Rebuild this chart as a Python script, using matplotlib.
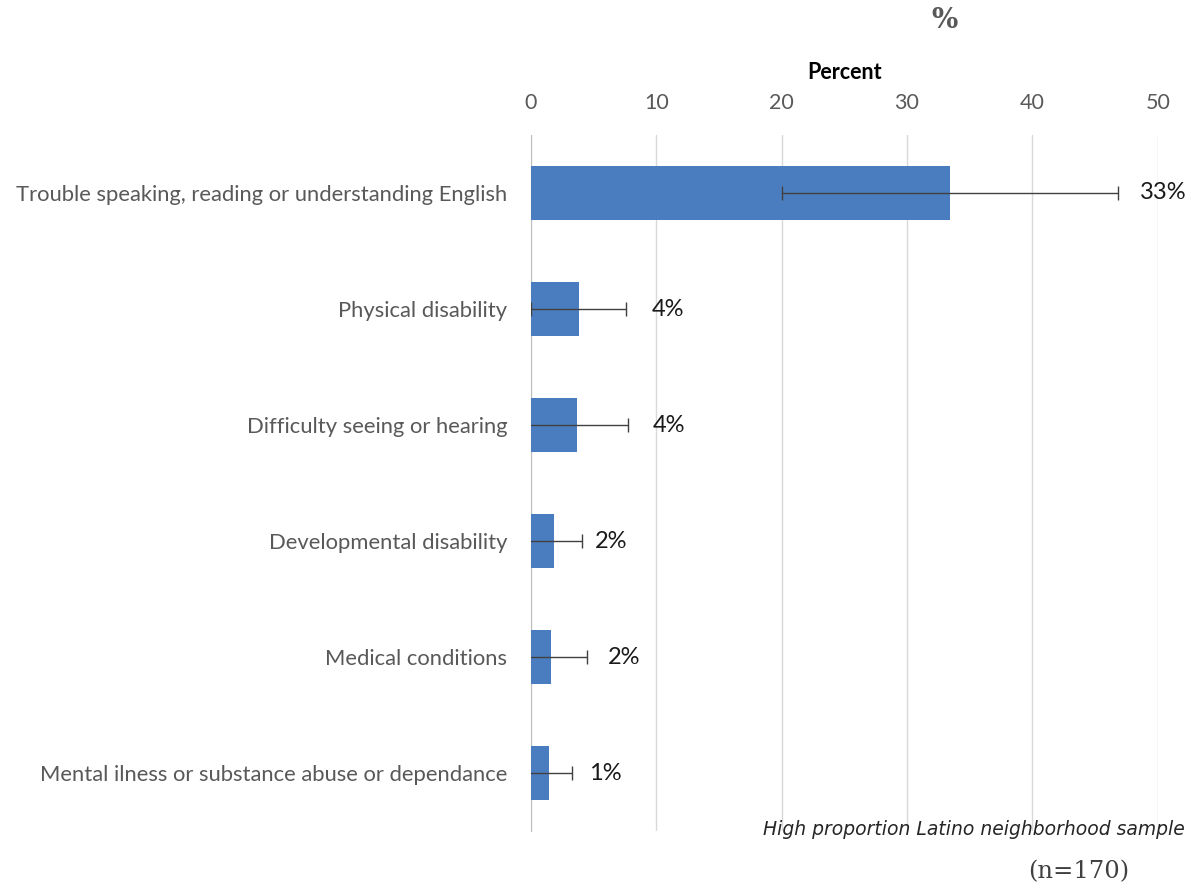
import numpy as np
import matplotlib.pyplot as plt

categories = [
    "Trouble speaking, reading or understanding English",
    "Physical disability",
    "Difficulty seeing or hearing",
    "Developmental disability",
    "Medical conditions",
    "Mental ilness or substance abuse or dependance",
]
values = [33.4, 3.8, 3.7, 1.8, 1.6, 1.4]
errors = [13.4, 3.8, 4.0, 2.3, 2.9, 1.9]
labels = ["33%", "4%", "4%", "2%", "2%", "1%"]
label_offsets = [16, 18, 18, 9, 15, 12]
xticks = [0, 10, 20, 30, 40, 50]

plt.rcParams['font.family'] = ['Lato', 'DejaVu Sans']

fig = plt.figure(figsize=(11.96, 8.88), dpi=100)
ax = fig.add_axes([0.444, 0.064, 0.524, 0.784])

y = np.arange(len(categories))
ax.barh(y, values, height=0.47, color='#4a7dc0', zorder=3)
ax.errorbar(values, y, xerr=errors, fmt='none', ecolor='#404040',
            elinewidth=1.0, capsize=5, capthick=1.0, zorder=4)

for i in range(len(values)):
    ax.annotate(labels[i], (values[i] + errors[i], y[i]),
                xytext=(label_offsets[i], 0), textcoords='offset points',
                va='center', ha='left', fontsize=17, color='#1a1a1a')

ax.set_xlim(0, 50)
ax.set_ylim(len(categories) - 0.5, -0.5)
ax.set_yticks(y)
ax.set_yticklabels(categories, fontsize=15.8, color='#595959')
ax.set_xticks(xticks)
ax.xaxis.tick_top()
ax.xaxis.set_label_position('top')
ax.tick_params(axis='x', length=0, pad=16, labelsize=15.5, labelcolor='#595959')
ax.tick_params(axis='y', length=0, pad=17)
ax.set_xlabel("Percent", fontsize=15.5, fontweight='bold', color='black', labelpad=10)

ax.grid(axis='x', color='#d9d9d9', linewidth=1, zorder=0)
for s in ['top', 'right', 'bottom']:
    ax.spines[s].set_visible(False)
ax.spines['left'].set_color('#bfbfbf')

fig.text(945 / 1196, 1 - 20 / 888, "%", family='DejaVu Serif', fontweight='bold',
         fontsize=20, color='#595959', ha='center', va='center')
fig.text(1185 / 1196, 1 - 829 / 888, "High proportion Latino neighborhood sample",
         family='DejaVu Sans', style='italic', fontsize=13.5, color='#262626',
         ha='right', va='center')
fig.text(1079 / 1196, 1 - 872 / 888, "(n=170)", family='DejaVu Serif',
         fontsize=17.5, color='#404040', ha='center', va='center')

fig.savefig('out.png', dpi=100)
